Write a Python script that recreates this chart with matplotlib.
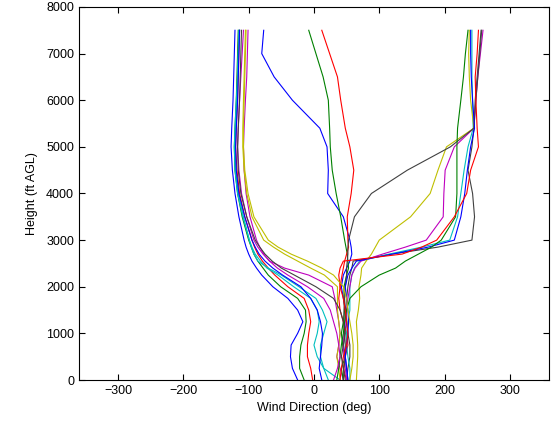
import matplotlib
matplotlib.use("Agg")
import matplotlib.pyplot as plt

plt.rcParams["font.family"] = ["Liberation Sans", "DejaVu Sans"]

# heights (ft AGL) shared by every sounding
heights = [0, 250, 500, 750, 1000, 1250, 1500, 1750, 2000, 2250, 2400, 2550,
           2700, 2850, 3000, 3500, 4000, 4500, 5000, 5400, 6000, 6500, 7000, 7500]

# wind direction (deg) per sounding, bottom to top
dir01 = [-25, -33, -36, -35, -25, -17, -25, -40, -63, -80, -88, -95, -100, -104, -107, -115, -121, -125, -127, -126, -124, -123, -122, -121]
dir02 = [-15, -22, -22, -20, -15, -12, -13, -25, -51, -70, -78, -86, -92, -96, -100, -110, -117, -121, -122, -121, -119, -118, -117, -116]
dir03 = [-2, -5, -10, -10, -8, -5, -8, -15, -40, -60, -70, -79, -86, -91, -95, -106, -114, -118, -120, -119, -117, -116, -115, -114]
dir04 = [40, 15, 5, 0, 5, 8, 5, -5, -31, -55, -72, -82, -90, -95, -99, -109, -117, -121, -122, -121, -119, -117, -116, -114]
dir05 = [45, 40, 35, 38, 40, 38, 35, 32, 28, -8, -45, -68, -77, -83, -88, -98, -104, -107, -108, -107, -105, -103, -102, -101]
dir06 = [40, 38, 35, 38, 40, 38, 36, 36, 36, 16, -5, -25, -45, -62, -77, -95, -103, -107, -109, -109, -108, -107, -106, -105]
dir07 = [50, 52, 55, 55, 52, 50, 48, 50, 52, 55, 58, 60, 119, 190, 242, 246, 243, 236, 242, 245, 247, 250, 253, 256]
dir08 = [52, 50, 48, 45, 47, 50, 48, 45, 42, 45, 50, 55, 58, 57, 55, 45, 21, 22, 20, 9, -33, -61, -80, -77]
dir09 = [45, 42, 48, 44, 42, 45, 47, 46, 46, 50, 53, 52, 51, 49, 47, 41, 34, 28, 25, 24, 22, 14, 3, -8]
dir10 = [50, 45, 48, 52, 50, 45, 40, 38, 40, 43, 45, 47, 50, 53, 52, 51, 57, 61, 55, 48, 41, 36, 24, 12]
dir11 = [55, 55, 52, 50, 50, 52, 55, 55, 55, 58, 62, 70, 115, 165, 208, 220, 225, 230, 236, 244, 243, 242, 242, 242]
dir12 = [50, 48, 46, 45, 46, 48, 50, 52, 55, 58, 63, 72, 105, 140, 172, 198, 199, 201, 215, 245, 248, 251, 255, 259]
dir13 = [65, 66, 67, 67, 66, 65, 68, 70, 69, 72, 73, 80, 88, 94, 100, 148, 178, 190, 203, 245, 240, 238, 237, 238]
dir14 = [45, 46, 48, 48, 47, 46, 46, 47, 48, 50, 50, 51, 52, 52, 53, 62, 88, 143, 209, 245, 248, 251, 254, 257]
dir15 = [52, 50, 48, 50, 52, 53, 52, 50, 48, 52, 58, 65, 120, 175, 215, 225, 231, 235, 240, 246, 243, 241, 240, 240]
dir16 = [35, 38, 40, 42, 45, 47, 50, 55, 72, 100, 125, 140, 160, 180, 195, 217, 219, 219, 219, 220, 225, 229, 232, 236]
dir17 = [40, 42, 45, 50, 52, 50, 48, 45, 40, 38, 40, 45, 135, 165, 188, 215, 234, 240, 252, 250, 248, 247, 250, 252]
dir18 = [22, 15, 10, 10, 15, 20, 13, 3, -23, -50, -70, -86, -92, -96, -99, -108, -116, -120, -121, -120, -118, -117, -116, -115]
dir19 = [30, 36, 40, 38, 35, 30, 25, 15, -10, -40, -56, -68, -78, -86, -92, -103, -111, -115, -117, -116, -114, -112, -110, -108]
dir20 = [55, 58, 60, 60, 58, 55, 52, 50, 45, 30, 12, -10, -35, -55, -70, -92, -101, -106, -108, -108, -107, -106, -105, -104]
dir21 = [48, 45, 42, 45, 48, 45, 40, 30, 3, -30, -50, -64, -75, -83, -90, -103, -112, -116, -117, -116, -114, -113, -112, -111]
dir22 = [12, 8, 10, 12, 13, 10, 5, -5, -20, -48, -63, -75, -84, -90, -95, -106, -115, -119, -120, -119, -117, -116, -115, -114]

soundings = [dir01, dir02, dir03, dir04, dir05, dir06, dir07, dir08, dir09, dir10, dir11,
             dir12, dir13, dir14, dir15, dir16, dir17, dir18, dir19, dir20, dir21, dir22]

# classic bgrcmyk line order
colors = [(0, 0, 1), (0, 0.5, 0), (1, 0, 0), (0, 0.75, 0.75),
          (0.75, 0, 0.75), (0.75, 0.75, 0), (0.25, 0.25, 0.25)]

fig = plt.figure(figsize=(5.55, 4.22), dpi=100)
ax = fig.add_axes([0.1423, 0.0995, 0.8468, 0.884])

for i, d in enumerate(soundings):
    ax.plot(d, heights, color=colors[i % len(colors)], linewidth=0.8)

ax.set_xlim(-360, 360)
ax.set_ylim(0, 8000)
ax.set_xticks([-300, -200, -100, 0, 100, 200, 300])
ax.set_yticks(range(0, 8001, 1000))
ax.tick_params(direction="in", top=True, right=True, length=4, labelsize=9)
ax.set_xlabel("Wind Direction (deg)", fontsize=9, labelpad=4)
ax.set_ylabel("Height (ft AGL)", fontsize=9, labelpad=6)

fig.savefig("out.png", dpi=100)
